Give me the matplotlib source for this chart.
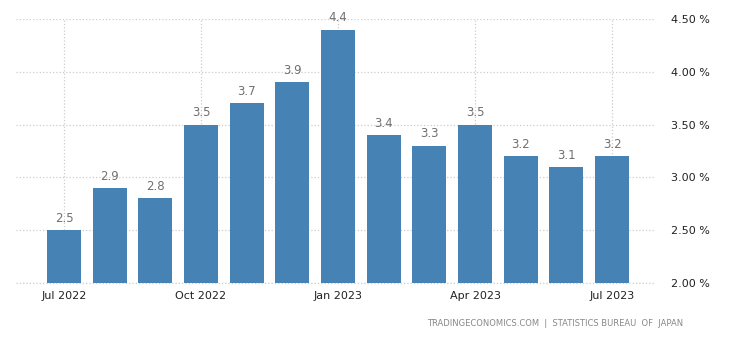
import numpy as np
import matplotlib.pyplot as plt
from matplotlib.ticker import FuncFormatter

months = ["Jul 2022", "Aug 2022", "Sep 2022", "Oct 2022", "Nov 2022", "Dec 2022",
          "Jan 2023", "Feb 2023", "Mar 2023", "Apr 2023", "May 2023", "Jun 2023", "Jul 2023"]
values = [2.5, 2.9, 2.8, 3.5, 3.7, 3.9, 4.4, 3.4, 3.3, 3.5, 3.2, 3.1, 3.2]
tick_idx = [0, 3, 6, 9, 12]
y_ticks = [2.0, 2.5, 3.0, 3.5, 4.0, 4.5]

plt.rcParams['font.family'] = ['DejaVu Sans']

fig = plt.figure(figsize=(7.3, 3.4), dpi=100)
ax = fig.add_axes([0.022, 0.168, 0.874, 0.776])

x = np.arange(len(values))
ax.bar(x, values, width=0.74, color='#4682b4', zorder=2)
for xi, v in zip(x, values):
    ax.text(xi, v + 0.05, f"{v:.1f}", ha='center', va='bottom', fontsize=8.5, color='#707070')

ax.set_xlim(-1.05, 12.92)
ax.set_ylim(2.0, 4.5)
ax.set_xticks(tick_idx)
ax.set_xticklabels([months[i] for i in tick_idx])
ax.set_yticks(y_ticks)
ax.yaxis.set_major_formatter(FuncFormatter(lambda v, p: f"{v:.2f} %"))
ax.yaxis.tick_right()
ax.tick_params(axis='both', length=0, labelsize=8, colors='#222222')
ax.tick_params(axis='y', pad=12)
ax.tick_params(axis='x', pad=6)
ax.grid(True, color='#cccccc', linestyle=':', linewidth=0.9, zorder=0)
ax.axhline(2.0, color='#cccccc', linestyle=':', linewidth=0.9, zorder=0, clip_on=False)
ax.set_axisbelow(True)
for s in ax.spines.values():
    s.set_visible(False)

fig.text(0.936, 0.035, "TRADINGECONOMICS.COM  |  STATISTICS BUREAU  OF  JAPAN",
         ha='right', va='bottom', fontsize=6, color='#888888')

fig.savefig('out.png', dpi=100)
